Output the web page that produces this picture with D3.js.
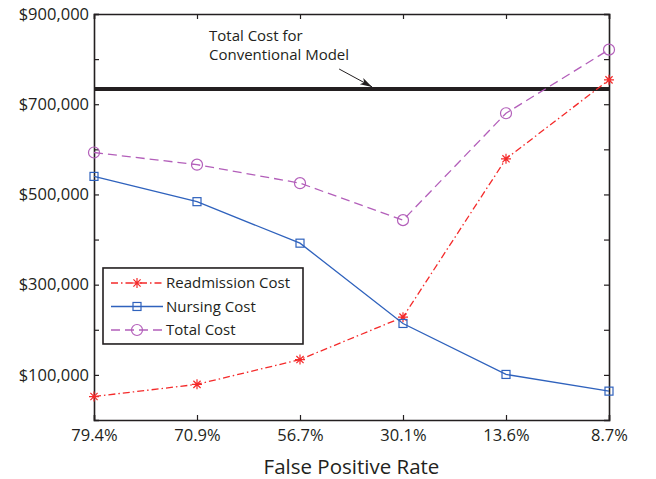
<!DOCTYPE html>
<html>
<head>
<meta charset="utf-8">
<script src="https://cdn.jsdelivr.net/npm/d3@7"></script>
<style>
  html, body { margin: 0; padding: 0; background: #fff; }
  svg { display: block; font-family: 'Open Sans', 'Noto Sans', sans-serif; }
</style>
</head>
<body>
<script>
/* DATA */
const categories = ['79.4%', '70.9%', '56.7%', '30.1%', '13.6%', '8.7%'];
const readmission = [52000, 79000, 134000, 228000, 579000, 754000];
const nursing = [540000, 484000, 392000, 214000, 101000, 64000];
const total = [593000, 566000, 525000, 443000, 680000, 821000];
const conventionalCost = 734000;
const yTicks = [100000, 200000, 300000, 400000, 500000, 600000, 700000, 800000, 900000];
const yTickLabels = ['$100,000', '', '$300,000', '', '$500,000', '', '$700,000', '', '$900,000'];
const annotationLines = ['Total Cost for', 'Conventional Model'];
const xTitle = 'False Positive Rate';

const series = [
  { name: 'Readmission Cost', values: readmission, color: '#f42a2a', dash: '7,3,1.5,3', marker: 'star' },
  { name: 'Nursing Cost', values: nursing, color: '#2f62bd', dash: null, marker: 'square' },
  { name: 'Total Cost', values: total, color: '#b35fba', dash: '9,5', marker: 'circle' },
];

/* LAYOUT */
const fullWidth = 656;
const fullHeight = 479;
const margin = { top: 14, right: 47, bottom: 59, left: 94 };
const width = fullWidth - margin.left - margin.right;
const height = fullHeight - margin.top - margin.bottom;

const svg = d3
  .select('body')
  .append('svg')
  .attr('width', fullWidth)
  .attr('height', fullHeight);

const group = svg
  .append('g')
  .attr('transform', `translate(${margin.left} ${margin.top})`);

const xScale = d3
  .scalePoint()
  .domain(categories)
  .range([0, width])
  .padding(0);

const yScale = d3
  .scaleLinear()
  .domain([0, 900000])
  .range([height, 0]);

/* AXES: box with inward ticks on every side */
const tickFont = 16.5;

const xAxis = d3
  .axisBottom(xScale)
  .tickSize(-5)
  .tickPadding(9);

const yAxis = d3
  .axisLeft(yScale)
  .tickValues(yTicks)
  .tickSize(-5)
  .tickPadding(5)
  .tickFormat((d, i) => yTickLabels[i]);

const axisGroup = group.append('g');

axisGroup
  .append('g')
  .attr('id', 'x-axis')
  .attr('transform', `translate(0 ${height})`)
  .call(xAxis);

axisGroup
  .append('g')
  .attr('id', 'y-axis')
  .call(yAxis);

axisGroup
  .append('g')
  .attr('id', 'x-axis-top')
  .call(d3.axisTop(xScale).tickSize(-5).tickFormat(''));

axisGroup
  .append('g')
  .attr('id', 'y-axis-right')
  .attr('transform', `translate(${width} 0)`)
  .call(d3.axisRight(yScale).tickValues(yTicks).tickSize(-5).tickFormat(''));

axisGroup
  .selectAll('.domain')
  .attr('stroke', '#231f20')
  .attr('stroke-width', 1.6);

axisGroup
  .selectAll('.tick line')
  .attr('stroke', '#231f20')
  .attr('stroke-width', 1.2);

axisGroup
  .selectAll('text')
  .attr('font-size', tickFont)
  .attr('font-family', "'Open Sans', sans-serif")
  .attr('fill', '#231f20');

group
  .append('text')
  .attr('x', width / 2)
  .attr('y', height + 54)
  .attr('text-anchor', 'middle')
  .attr('font-size', 20.5)
  .attr('fill', '#231f20')
  .text(xTitle);

/* CONVENTIONAL MODEL REFERENCE LINE */
group
  .append('line')
  .attr('x1', 0)
  .attr('x2', width)
  .attr('y1', yScale(conventionalCost))
  .attr('y2', yScale(conventionalCost))
  .attr('stroke', '#231f20')
  .attr('stroke-width', 4);

const annotation = group
  .append('text')
  .attr('font-size', 15)
  .attr('fill', '#231f20');

annotation
  .selectAll('tspan')
  .data(annotationLines)
  .join('tspan')
  .attr('x', xScale(categories[1]) + 12)
  .attr('y', (d, i) => 27 + i * 19)
  .text(d => d);

svg
  .append('defs')
  .append('marker')
  .attr('id', 'arrow')
  .attr('viewBox', '0 -5 12 10')
  .attr('refX', 12)
  .attr('refY', 0)
  .attr('markerWidth', 12)
  .attr('markerHeight', 10)
  .attr('markerUnits', 'userSpaceOnUse')
  .attr('orient', 'auto')
  .append('path')
  .attr('d', 'M0,-3.5L12,0L0,3.5L3,0Z')
  .attr('fill', '#231f20');

const step = xScale.step();
group
  .append('line')
  .attr('x1', xScale(categories[2]) + step * 0.38)
  .attr('y1', 55)
  .attr('x2', xScale(categories[2]) + step * 0.7)
  .attr('y2', yScale(conventionalCost) - 2)
  .attr('stroke', '#231f20')
  .attr('stroke-width', 1)
  .attr('marker-end', 'url(#arrow)');

/* MARKERS */
function drawMarker(sel, type, color) {
  if (type === 'star') {
    const s = 5;
    const a = 3.6;
    sel
      .append('path')
      .attr('d', `M${-s},0H${s}M0,${-s}V${s}M${-a},${-a}L${a},${a}M${-a},${a}L${a},${-a}`)
      .attr('stroke', color)
      .attr('stroke-width', 1.2)
      .attr('fill', 'none');
  } else if (type === 'square') {
    sel
      .append('rect')
      .attr('x', -4)
      .attr('y', -4)
      .attr('width', 8)
      .attr('height', 8)
      .attr('fill', 'none')
      .attr('stroke', color)
      .attr('stroke-width', 1.2);
  } else {
    sel
      .append('circle')
      .attr('r', 5.5)
      .attr('fill', 'none')
      .attr('stroke', color)
      .attr('stroke-width', 1.2);
  }
}

/* LINES */
const lineGenerator = d3
  .line()
  .x((d, i) => xScale(categories[i]))
  .y(d => yScale(d));

series.forEach(s => {
  group
    .append('path')
    .attr('d', lineGenerator(s.values))
    .attr('fill', 'none')
    .attr('stroke', s.color)
    .attr('stroke-width', 1.3)
    .attr('stroke-dasharray', s.dash);

  s.values.forEach((v, i) => {
    const g = group
      .append('g')
      .attr('transform', `translate(${xScale(categories[i])} ${yScale(v)})`);
    drawMarker(g, s.marker, s.color);
  });
});

/* LEGEND */
const legend = group
  .append('g')
  .attr('transform', `translate(9 ${yScale(337000)})`);

legend
  .append('rect')
  .attr('width', 200)
  .attr('height', 76)
  .attr('fill', '#fff')
  .attr('stroke', '#231f20')
  .attr('stroke-width', 1.6);

series.forEach((s, i) => {
  const row = legend
    .append('g')
    .attr('transform', `translate(0 ${15 + i * 23.5})`);
  row
    .append('line')
    .attr('x1', 8)
    .attr('x2', 60)
    .attr('stroke', s.color)
    .attr('stroke-width', 1.3)
    .attr('stroke-dasharray', s.dash);
  const m = row.append('g').attr('transform', 'translate(34 0)');
  drawMarker(m, s.marker, s.color);
  row
    .append('text')
    .attr('x', 63)
    .attr('dy', '0.35em')
    .attr('font-size', 15)
    .attr('fill', '#231f20')
    .text(s.name);
});
</script>
</body>
</html>
